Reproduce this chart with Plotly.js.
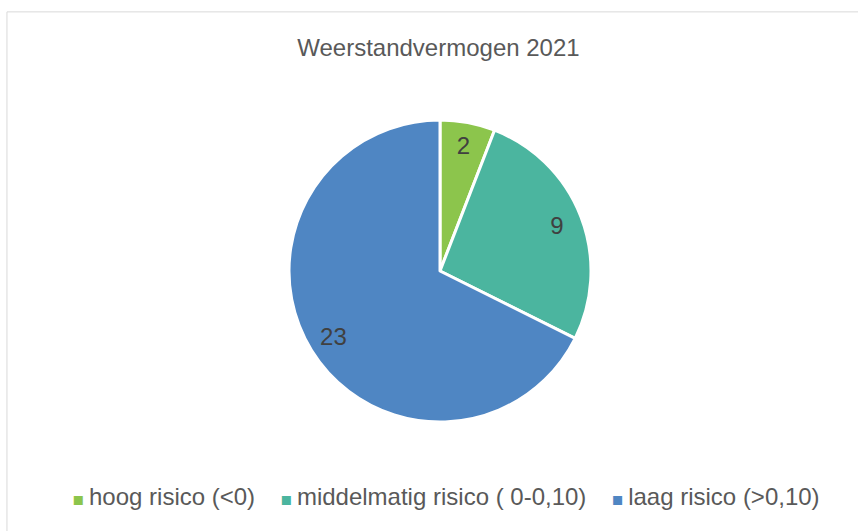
<!DOCTYPE html>
<html>
<head>
<meta charset="utf-8">
<script src="https://cdn.plot.ly/plotly-3.0.1.min.js"></script>
<style>
  html, body { margin: 0; padding: 0; background: #fff; }
  #grafiek { width: 858px; height: 531px; }
</style>
</head>
<body>
<div id="grafiek"></div>
<script>
var categorieen = ['hoog risico (<0)', 'middelmatig risico ( 0-0,10)', 'laag risico (>0,10)'];
var aantallen = [2, 9, 23];
var kleuren = ['#8cc54c', '#4bb59f', '#4f86c3'];

var lettertype = 'Liberation Sans, Arial, sans-serif';

// taart zelf
var taart = {
  type: 'pie',
  labels: categorieen,
  values: aantallen,
  sort: false,
  direction: 'clockwise',
  rotation: 0,
  marker: { colors: kleuren, line: { color: '#ffffff', width: 3 } },
  textinfo: 'none',
  showlegend: false
};

// tweede (doorzichtige) ring alleen voor de getallen, zodat ze verder naar buiten staan
var getallen = {
  type: 'pie',
  labels: categorieen,
  values: aantallen,
  sort: false,
  direction: 'clockwise',
  rotation: 0,
  hole: 0.66,
  marker: { colors: ['rgba(0,0,0,0)', 'rgba(0,0,0,0)', 'rgba(0,0,0,0)'], line: { width: 0 } },
  textinfo: 'value',
  textposition: 'inside',
  insidetextorientation: 'horizontal',
  textfont: { family: lettertype, size: 24, color: '#404040' },
  showlegend: false
};

function escape(s) {
  return s.replace(/</g, '&lt;').replace(/>/g, '&gt;');
}

// legenda als tekst onder de taart
var legendaTekst = categorieen.map(function (c, i) {
  return "<span style='color:" + kleuren[i] + ";font-family:DejaVu Sans;font-size:18px'>\u25AA</span>\u2009" + escape(c);
}).join('\u00a0\u00a0\u00a0\u2009');

var layout = {
  width: 858,
  height: 531,
  paper_bgcolor: '#ffffff',
  margin: { l: 22, r: 0, t: 120, b: 109 },
  font: { family: lettertype, color: '#595959' },
  title: {
    text: 'Weerstandvermogen 2021',
    font: { size: 24, color: '#595959' },
    x: 0.511, xanchor: 'center',
    y: 0.911, yanchor: 'middle'
  },
  showlegend: false,
  annotations: [{
    xref: 'paper', yref: 'paper',
    x: 0.507, y: -0.248,
    xanchor: 'center', yanchor: 'middle',
    showarrow: false,
    text: legendaTekst,
    font: { family: lettertype, size: 24, color: '#595959' }
  }],
  // kader rond de grafiek
  shapes: [{
    type: 'rect', xref: 'paper', yref: 'paper',
    x0: -0.018, x1: 1.2, y0: -0.5, y1: 1.358,
    line: { color: '#d9d9d9', width: 1 }
  }]
};

Plotly.newPlot('grafiek', [taart, getallen], layout, { displayModeBar: false, staticPlot: true });
</script>
</body>
</html>
